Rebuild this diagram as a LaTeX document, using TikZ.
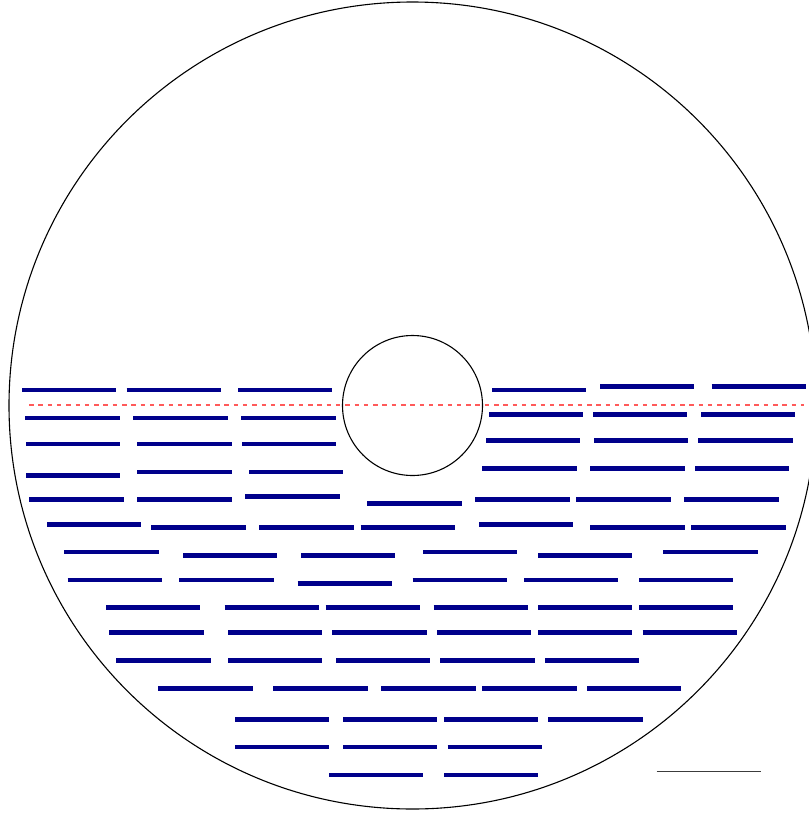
\documentclass[tikz,border=0pt]{standalone}
\definecolor{barblue}{RGB}{0,0,139}
\definecolor{dashred}{RGB}{255,90,90}
\definecolor{scalegray}{RGB}{60,60,60}
\tikzset{
  seg/.style={draw=barblue, line width=4.8pt},
  rim/.style={draw=black, line width=1.1pt},
  axisline/.style={draw=dashred, line width=2pt, dash pattern=on 4.5pt off 4.8pt},
  scalebar/.style={draw=scalegray, line width=1pt}
}
\begin{document}
\begin{tikzpicture}[x=1pt,y=-1pt]
\useasboundingbox (0,0) rectangle (809,815);
\draw[rim] (412.5,405.5) circle[radius=403.5];
\draw[rim] (412.5,405.5) circle[radius=70];
% bars: x-start / y
\foreach \x/\y in {
 22/390, 126.7/390, 238/390, 492/390, 600/386.3, 711.7/386.3,
 25.3/418, 133.3/418, 241.3/418, 489/414.3, 593/414.3, 701/414.3,
 26/444, 137.3/444, 242/444, 486/440.7, 594/440.7, 698.3/440.7,
 26/475.3, 137.3/472, 249/472, 482.3/468.7, 590.3/468.7, 695/468.7,
 29.3/499.7, 137.3/499.7, 245.3/496.3, 367.3/503.3, 475.3/499.7, 576.3/499.7, 684.3/499.7,
 47/524.3, 151.3/527.7, 259.3/527.7, 360.7/527.7, 479/524.3, 590.3/527.7, 691.3/527.7,
 64.3/552, 183/555.3, 301/555.3, 423/552, 538/555.3, 663.3/552,
 67.7/580, 179.3/580, 297.7/583.3, 412.7/580, 524/580, 639/580,
 106/607.7, 224.7/607.7, 325.7/607.7, 433.7/607.7, 538/607.7, 639/607.7,
 109.3/632.3, 228/632.3, 332.3/632.3, 437/632.3, 538/632.3, 642.7/632.3,
 116.3/660.3, 228/660.3, 336/660.3, 440.3/660.3, 545/660.3,
 158.3/688.3, 273.3/688.3, 381.3/688.3, 482.3/688.3, 587/688.3,
 235/719.3, 343/719.3, 444/719.3, 548.3/719.3,
 235/747, 343/747, 447.7/747,
 329/775, 444/775}
 {\draw[seg] (\x,\y) -- ++(94.3,0);}
\draw[axisline] (29,405.3) -- (804,405.3);
\draw[scalebar] (656.7,771.7) -- (761,771.7);
\end{tikzpicture}
\end{document}
